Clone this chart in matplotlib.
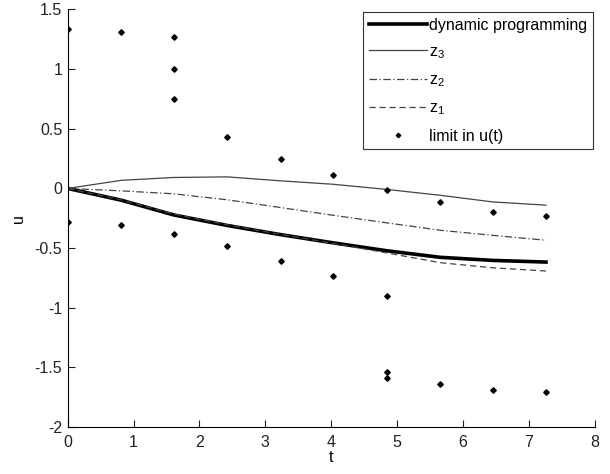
import numpy as np
import matplotlib
matplotlib.use('Agg')
import matplotlib.pyplot as plt

plt.rcParams['font.family'] = ['Liberation Sans', 'DejaVu Sans']
plt.rcParams['mathtext.fontset'] = 'custom'
plt.rcParams['mathtext.rm'] = 'Liberation Sans'

# sample times of the curves
t = [0, 0.81, 1.61, 2.42, 3.23, 4.03, 4.84, 5.65, 6.45, 7.26]
# curves
u_dp = [0, -0.098, -0.222, -0.31, -0.387, -0.456, -0.522, -0.577, -0.603, -0.617]
u_z3 = [0, 0.068, 0.092, 0.097, 0.064, 0.035, -0.008, -0.057, -0.113, -0.14]
u_z2 = [0, -0.02, -0.045, -0.095, -0.16, -0.225, -0.288, -0.35, -0.393, -0.434]
u_z1 = [0, -0.095, -0.215, -0.305, -0.385, -0.46, -0.54, -0.622, -0.665, -0.692]

# limits in u(t)
lim_t = [0, 0.81, 1.61, 1.61, 1.61, 2.42, 3.23, 4.03, 4.84, 5.65, 6.45, 7.26,
         0, 0.81, 1.61, 2.42, 3.23, 4.03, 4.84, 4.84, 4.84, 5.65, 6.45, 7.26]
lim_u = [1.335, 1.31, 1.27, 1.0, 0.75, 0.43, 0.25, 0.11, -0.015, -0.115, -0.2, -0.23,
         -0.28, -0.31, -0.385, -0.48, -0.61, -0.73, -0.90, -1.54, -1.59, -1.64, -1.69, -1.71]

fig = plt.figure(figsize=(6.1, 4.74), dpi=100)
ax = fig.add_axes([0.111, 0.099, 0.864, 0.881])

ax.plot(t, u_dp, color='black', lw=2.6, label='dynamic programming')
ax.plot(t, u_z3, color='#444444', lw=0.9, ls='-', label=r'z$_\mathregular{3}$')
ax.plot(t, u_z2, color='#444444', lw=0.9, ls=(0, (6, 2, 1, 2)), label=r'z$_\mathregular{2}$')
ax.plot(t, u_z1, color='#444444', lw=0.9, ls=(0, (5, 3)), label=r'z$_\mathregular{1}$')
ax.plot(lim_t, lim_u, ls='none', marker='D', ms=2.8, color='black', label='limit in u(t)')

ax.set_xlim(0, 8)
ax.set_ylim(-2, 1.5)
ax.set_xticks(range(0, 9))
ax.set_yticks([-2, -1.5, -1, -0.5, 0, 0.5, 1, 1.5])
ax.set_yticklabels(['-2', '-1.5', '-1', '-0.5', '0', '0.5', '1', '1.5'])
ax.tick_params(direction='in', length=5, labelsize=11.5, colors='#222222')
ax.tick_params(axis='x', pad=6)
ax.tick_params(axis='y', pad=4)
ax.spines['top'].set_visible(False)
ax.spines['right'].set_visible(False)
ax.set_xlabel('t', fontsize=11.5, labelpad=0)
ax.set_ylabel('u', fontsize=11.5, labelpad=6)

leg = ax.legend(loc='upper right', bbox_to_anchor=(0.996, 0.994), fontsize=11.5,
                frameon=True, fancybox=False, edgecolor='black', handlelength=3.6,
                handletextpad=0.15, borderpad=0.35, labelspacing=0.72, borderaxespad=0,
                markerscale=0.8)
leg.get_frame().set_linewidth(0.8)

fig.savefig('out.png', dpi=100)
